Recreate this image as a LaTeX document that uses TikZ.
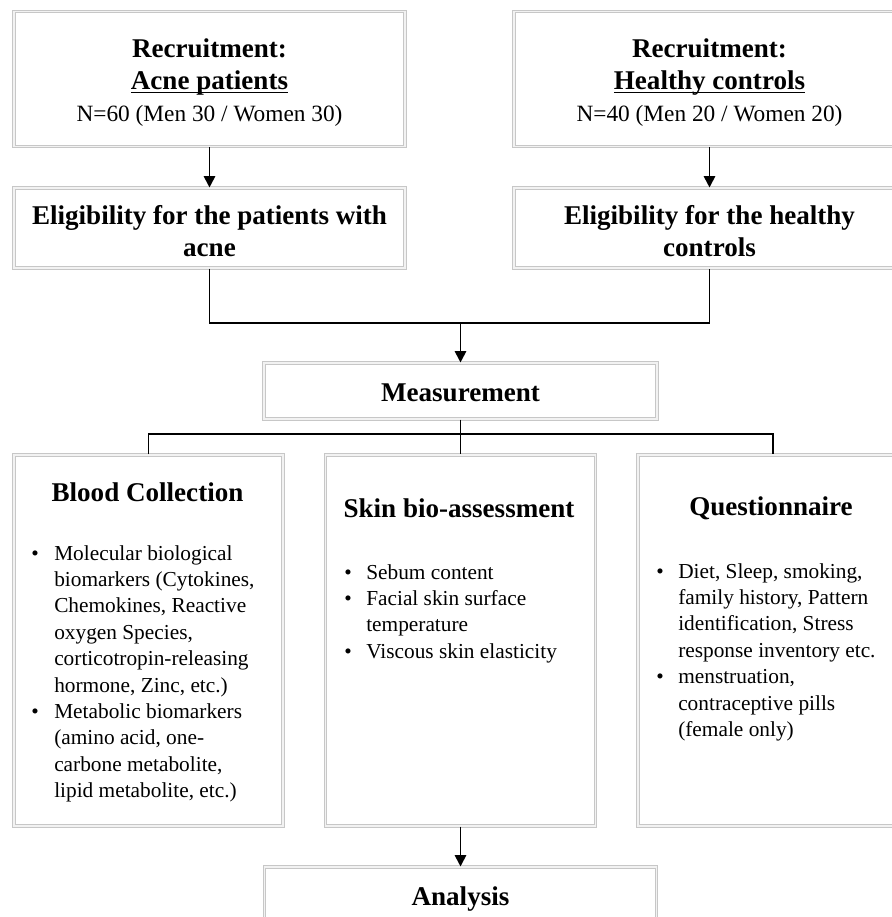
\documentclass[tikz,border=0pt]{standalone}
\usepackage{fontspec}
\setmainfont{Liberation Serif}
\usepackage{tikz}
\usetikzlibrary{arrows.meta, positioning}
\newcommand{\headfont}{\fontsize{20.3}{24.5}\selectfont\bfseries}
\newcommand{\listfont}{\fontsize{16}{19.8}\selectfont}
\newcommand{\undl}[1]{\setbox0\hbox{#1}\rlap{\rule[-2.4pt]{\wd0}{1pt}}\box0}
\tikzset{
  frame/.style={rectangle, draw=black!22, double=black!5, double distance=0.9pt, line width=0.8pt, fill=white, inner sep=0pt, text centered, align=center},
  head/.style={font=\headfont, inner sep=0pt},
  recruit/.style={font=\fontsize{17.5}{24}\selectfont, inner sep=0pt, align=center},
  items/.style={anchor=base west, inner sep=0pt, font=\listfont},
  link/.style={line width=1.4pt, black},
  arrow/.style={line width=1.4pt, black, -{Triangle[length=8.5pt,width=8.5pt]}}
}
\begin{document}
\begin{tikzpicture}[x=0.75pt, y=-0.75pt]
\useasboundingbox (0,0) rectangle (892,917);
\clip (0,0) rectangle (892,917);

% Recruitment
\node (recA) [frame, minimum width=293.25pt, minimum height=101.25pt] at (209.5,79) {};
\node (recB) [frame, minimum width=293.25pt, minimum height=101.25pt] at (709.5,79) {};
\node (recAtext) [recruit] at (209.5,83) {{\headfont Recruitment:}\\{\headfont\undl{Acne patients}}\\N=60 (Men 30 / Women 30)};
\node (recBtext) [recruit] at (709.5,83) {{\headfont Recruitment:}\\{\headfont\undl{Healthy controls}}\\N=40 (Men 20 / Women 20)};

% Eligibility
\node (eligA) [frame, minimum width=293.25pt, minimum height=60pt] at (209.5,228) {};
\node (eligB) [frame, minimum width=293.25pt, minimum height=60pt] at (709.5,228) {};
\node (eligAtext) [head, align=center] at (209.5,231) {Eligibility for the patients with\\acne};
\node (eligBtext) [head, align=center] at (709.5,231) {Eligibility for the healthy\\controls};

% Measurement and analysis
\node (meas) [frame, minimum width=294.75pt, minimum height=42pt, font=\headfont] at (460.5,391) {};
\node (meastext) [head] at (460.5,393) {Measurement};
\node (ana) [frame, minimum width=294pt, minimum height=45pt] at (460.5,897) {};
\node (anatext) [head] at (460.5,899) {Analysis};

% Three measurement boxes
\node (blood) [frame, minimum width=201.75pt, minimum height=278.25pt] at (148.5,640.5) {};
\node (skin) [frame, minimum width=202.5pt, minimum height=278.25pt] at (460.5,640.5) {};
\node (quest) [frame, minimum width=202.5pt, minimum height=278.25pt] at (773,640.5) {};

\node (bloodhead) [head] at (147.5,492) {Blood Collection};
\node (skinhead) [head] at (459,508) {Skin bio-assessment};
\node (questhead) [head] at (771,508) {Questionnaire};

\node (bloodlist) [items] at (31,560) {\begin{tabular}[t]{@{}p{17.25pt}@{}l@{}}
\textbullet & Molecular biological\\
 & biomarkers (Cytokines,\\
 & Chemokines, Reactive\\
 & oxygen Species,\\
 & corticotropin-releasing\\
 & hormone, Zinc, etc.)\\
\textbullet & Metabolic biomarkers\\
 & (amino acid, one-\\
 & carbone metabolite,\\
 & lipid metabolite, etc.)
\end{tabular}};
\node (skinlist) [items] at (344,579) {\begin{tabular}[t]{@{}p{16.5pt}@{}l@{}}
\textbullet & Sebum content\\
\textbullet & Facial skin surface\\
 & temperature\\
\textbullet & Viscous skin elasticity
\end{tabular}};
\node (questlist) [items] at (656,578) {\begin{tabular}[t]{@{}p{16.5pt}@{}l@{}}
\textbullet & Diet, Sleep, smoking,\\
 & family history, Pattern\\
 & identification, Stress\\
 & response inventory etc.\\
\textbullet & menstruation,\\
 & contraceptive pills\\
 & (female only)
\end{tabular}};

% Connectors
\coordinate (join) at (460.5,323);
\coordinate (split) at (460.5,434);
\draw [arrow] (recA) -- (eligA);
\draw [arrow] (recB) -- (eligB);
\draw [link] (eligA.south) |- (join) -| (eligB.south);
\draw [arrow] (join) -- (meas);
\draw [link] (meas.south) -- (skin.north);
\draw [link] (blood.north) |- (split) -| (quest.north);
\draw [arrow] (skin) -- (ana);

\end{tikzpicture}
\end{document}
